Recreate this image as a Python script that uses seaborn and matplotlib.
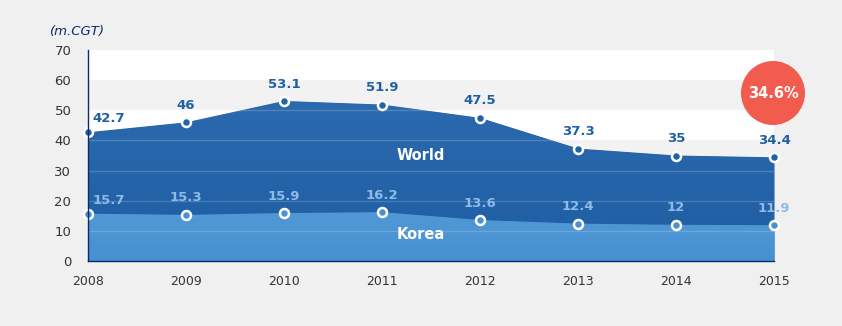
import matplotlib
matplotlib.use("Agg")
import matplotlib.pyplot as plt
from matplotlib.patches import Circle
from matplotlib.colors import LinearSegmentedColormap
import numpy as np
import seaborn as sns
import pandas as pd

years = [2008, 2009, 2010, 2011, 2012, 2013, 2014, 2015]
world = [42.7, 46, 53.1, 51.9, 47.5, 37.3, 35, 34.4]
korea = [15.7, 15.3, 15.9, 16.2, 13.6, 12.4, 12, 11.9]
share_label = "34.6%"
y_ticks = [0, 10, 20, 30, 40, 50, 60, 70]

df = pd.DataFrame({"year": years, "World": world, "Korea": korea})

sns.set_style("white")
plt.rcParams["font.family"] = ["DejaVu Sans"]

BG = "#f0f0f0"
NAVY = "#0d2a6b"
WORLD_C = "#2163a6"
KOREA_C = "#4a91d2"
WORLD_TXT = "#1f5fa3"
KOREA_TXT = "#8dbbe8"

fig = plt.figure(figsize=(8.42, 3.26), dpi=100, facecolor=BG)
ax = fig.add_axes([88 / 842, 1 - 261 / 326, (774 - 88) / 842, (261 - 50) / 326])
ax.set_facecolor("white")

# alternating horizontal bands
for lo in range(10, 70, 20):
    ax.axhspan(lo, lo + 10, color="#f2f2f2", lw=0, zorder=0)


def gradient_area(values, top_col, bottom_col, z):
    """Fill the area under a series with a soft vertical gradient."""
    poly = ax.fill_between(df["year"], 0, values, color=bottom_col, lw=0, zorder=z)
    cmap = LinearSegmentedColormap.from_list("g", [bottom_col, top_col])
    grad = np.linspace(0, 1, 256).reshape(-1, 1)
    img = ax.imshow(grad, cmap=cmap, origin="lower", aspect="auto",
                    extent=[years[0], years[-1], 0, max(values)], zorder=z,
                    interpolation="bicubic")
    path = poly.get_paths()[0]
    img.set_clip_path(path, transform=ax.transData)
    return poly


gradient_area(world, "#2b6aae", "#1e5da2", 1)
gradient_area(korea, "#5298d5", "#4690d2", 2)

ax.set_xlim(years[0], years[-1])
ax.set_ylim(0, 70)

# faint grid lines across the filled areas
for t in y_ticks[1:-1]:
    ax.axhline(t, color="white", alpha=0.18, lw=1, zorder=3)

# point markers
sns.scatterplot(data=df, x="year", y="World", ax=ax, s=42, color=WORLD_C,
                edgecolor="white", linewidth=1.8, zorder=5, clip_on=False)
sns.scatterplot(data=df, x="year", y="Korea", ax=ax, s=42, color=KOREA_C,
                edgecolor="white", linewidth=1.8, zorder=5, clip_on=False)

# value labels
for i, (x, w, k) in enumerate(zip(years, world, korea)):
    if i == 0:
        off, ha = (3, 5), "left"
    else:
        off, ha = (0, 7.5), "center"
    ax.annotate(f"{w:g}", (x, w), xytext=off, textcoords="offset points",
                ha=ha, va="bottom", fontsize=9.5, fontweight="bold",
                color=WORLD_TXT, zorder=6, annotation_clip=False)
    ax.annotate(f"{k:g}", (x, k), xytext=off, textcoords="offset points",
                ha=ha, va="bottom", fontsize=9.5, fontweight="bold",
                color=KOREA_TXT, zorder=6, annotation_clip=False)

# series names
ax.text(2011.4, 35.0, "World", ha="center", va="center", color="white",
        fontsize=10.5, fontweight="bold", zorder=6)
ax.text(2011.4, 8.8, "Korea", ha="center", va="center", color="white",
        fontsize=10.5, fontweight="bold", zorder=6)

# axes styling
ax.set_xticks(years)
ax.set_xticklabels([str(y) for y in years], fontsize=9, color="#333333")
ax.set_yticks(y_ticks)
ax.set_yticklabels([str(t) for t in y_ticks], fontsize=9.5, color="#333333")
ax.tick_params(axis="x", length=6, width=1, color=NAVY, pad=4, direction="out")
ax.tick_params(axis="y", length=0, pad=12)
for side in ("top", "right"):
    ax.spines[side].set_visible(False)
for side in ("left", "bottom"):
    ax.spines[side].set_color(NAVY)
    ax.spines[side].set_linewidth(1)
    ax.spines[side].set_zorder(7)
ax.set_xlabel("")
ax.set_ylabel("")

# unit caption
fig.text(50 / 842, 1 - 31 / 326, "(m.CGT)", fontsize=9.5, style="italic",
         color=NAVY, ha="left", va="center")

# share badge
badge = Circle((7.73, 3.26 - 0.93), 0.32, transform=fig.dpi_scale_trans,
               color="#f25c4e", lw=0, zorder=10)
fig.add_artist(badge)
fig.text(773 / 842, 1 - 93 / 326, share_label, ha="center", va="center",
         color="white", fontsize=10.5, fontweight="bold", zorder=11)

fig.savefig("out.png", dpi=100, facecolor=BG)
